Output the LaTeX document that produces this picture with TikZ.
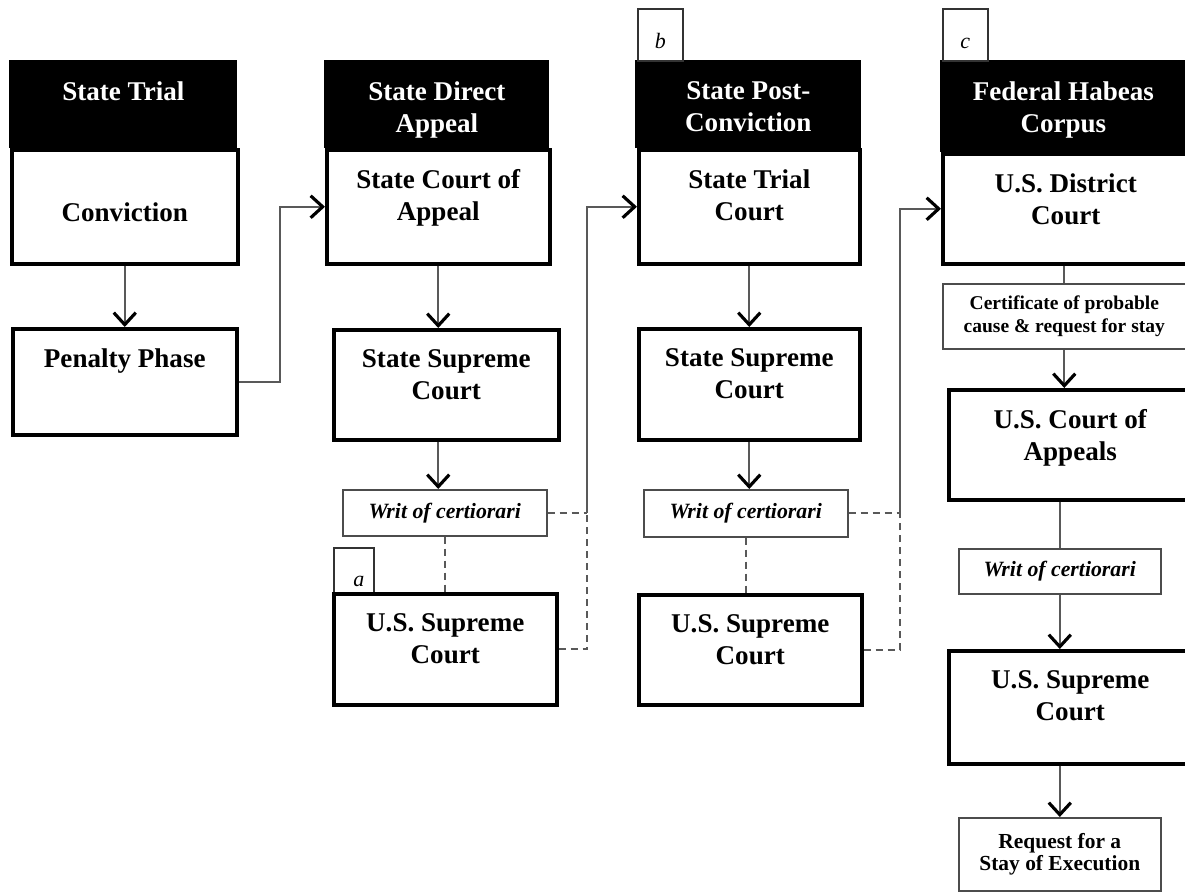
\documentclass[tikz,border=0pt]{standalone}
\usepackage{fontspec}
\setmainfont{Liberation Serif}
\usetikzlibrary{arrows.meta}
\newcommand\courtsize{\fontsize{15.4}{18.4}\selectfont}
\begin{document}
\begin{tikzpicture}[
  head/.style={fill=black, anchor=north west, inner sep=0pt},
  court/.style={draw, line width=2pt, anchor=north west, inner sep=0pt},
  writ/.style={draw=black!70, line width=0.9pt, anchor=north west, inner sep=0pt, font=\fontsize{12.4}{14}\selectfont\bfseries\itshape},
  note/.style={draw=black!70, line width=0.9pt, anchor=north west, inner sep=0pt, align=center, font=\bfseries},
  tag/.style={draw=black!80, line width=0.9pt, anchor=north west, inner sep=0pt},
  tagtext/.style={anchor=base, inner sep=0pt, font=\fontsize{12.5}{14}\selectfont\itshape},
  title/.style={anchor=north, yshift=-0.42cm, inner sep=0pt, align=center, font=\courtsize\bfseries},
  link/.style={draw=black!65, line width=1.1pt},
  arrow/.style={link, -{Straight Barb[length=0.24cm, width=0.44cm, line width=1.8pt, color=black]}},
  dlink/.style={link, dash pattern=on 0.14cm off 0.1cm}]
  \useasboundingbox (0,0) rectangle (23.700,-17.840);
  \clip (0,0) rectangle (23.700,-17.840);
  \node[head, minimum width=4.560cm, minimum height=1.760cm, label={[title, text=white]north:State Trial}] (trialhead) at (0.180,-1.200) {};
  \node[head, minimum width=4.500cm, minimum height=1.760cm, label={[title, text=white]north:State Direct\\Appeal}] (appealhead) at (6.480,-1.200) {};
  \node[head, minimum width=4.520cm, minimum height=1.760cm, label={[title, text=white]north:State Post-\\Conviction}] (posthead) at (12.700,-1.200) {};
  \node[head, minimum width=4.920cm, minimum height=1.840cm, label={[title, text=white]north:Federal Habeas\\Corpus}] (habeashead) at (18.800,-1.200) {};
  \node[tag, minimum width=0.900cm, minimum height=1.040cm, label={[tagtext, yshift=0.26cm]south:b}] (tagb) at (12.740,-0.160) {};
  \node[tag, minimum width=0.900cm, minimum height=1.040cm, label={[tagtext, yshift=0.26cm]south:c}] (tagc) at (18.840,-0.160) {};
  \node[tag, minimum width=0.800cm, minimum height=0.900cm, label={[tagtext, xshift=0.1cm, yshift=0.14cm]south:a}] (taga) at (6.660,-10.940) {};
  \node[court, minimum width=4.520cm, minimum height=2.280cm, label={[title, yshift=-0.67cm]north:Conviction}] (conviction) at (0.200,-2.960) {};
  \node[court, minimum width=4.480cm, minimum height=2.120cm, label={[title]north:Penalty Phase}] (penalty) at (0.220,-6.540) {};
  \node[court, minimum width=4.460cm, minimum height=2.280cm, label={[title]north:State Court of\\Appeal}] (appeal) at (6.500,-2.960) {};
  \node[court, minimum width=4.500cm, minimum height=2.200cm, label={[title]north:State Supreme\\Court}] (statesup1) at (6.640,-6.560) {};
  \node[writ, minimum width=4.080cm, minimum height=0.920cm] (writ1) at (6.840,-9.780) {Writ of certiorari};
  \node[court, minimum width=4.460cm, minimum height=2.220cm, label={[title]north:U.S. Supreme\\Court}] (ussup1) at (6.640,-11.840) {};
  \node[court, minimum width=4.420cm, minimum height=2.280cm, label={[title]north:State Trial\\Court}] (trialcourt) at (12.740,-2.960) {};
  \node[court, minimum width=4.420cm, minimum height=2.220cm, label={[title]north:State Supreme\\Court}] (statesup2) at (12.740,-6.540) {};
  \node[writ, minimum width=4.080cm, minimum height=0.940cm] (writ2) at (12.860,-9.780) {Writ of certiorari};
  \node[court, minimum width=4.460cm, minimum height=2.200cm, label={[title]north:U.S. Supreme\\Court}] (ussup2) at (12.740,-11.860) {};
  \node[court, minimum width=4.920cm, minimum height=2.200cm, label={[title]north:U.S. District\\Court}] (district) at (18.820,-3.040) {};
  \node[note, minimum width=4.860cm, minimum height=1.300cm, font=\fontsize{11.1}{13}\selectfont\bfseries] (certificate) at (18.840,-5.660) {Certificate of probable\\cause \& request for stay};
  \node[court, minimum width=4.860cm, minimum height=2.200cm, label={[title]north:U.S. Court of\\Appeals}] (appeals) at (18.940,-7.760) {};
  \node[writ, minimum width=4.040cm, minimum height=0.900cm] (writ3) at (19.160,-10.960) {Writ of certiorari};
  \node[court, minimum width=4.860cm, minimum height=2.260cm, label={[title]north:U.S. Supreme\\Court}] (ussup3) at (18.940,-12.980) {};
  \node[note, minimum width=4.040cm, minimum height=1.460cm, font=\fontsize{12.2}{12.8}\selectfont\bfseries] (stay) at (19.160,-16.340) {Request for a\\Stay of Execution};
  \coordinate (x1) at (5.600,0);
  \coordinate (x2) at (11.740,0);
  \coordinate (x3) at (18.000,0);
  \coordinate (k1) at (penalty.east -| x1);
  \coordinate (j1) at (writ1.east -| x2);
  \coordinate (j2) at (writ2.east -| x3);
  \draw[arrow] (conviction.south) -- (conviction.south |- penalty.north);
  \draw[arrow] (penalty.east) -- (k1) |- (appeal.west);
  \draw[arrow] (appeal.south) -- (appeal.south |- statesup1.north);
  \draw[arrow] (appeal.south |- statesup1.south) -- (appeal.south |- writ1.north);
  \draw[dlink] (writ1.south) -- (writ1.south |- ussup1.north);
  \draw[dlink] (writ1.east) -- (j1);
  \draw[dlink] (ussup1.east) -| (j1);
  \draw[arrow] (j1) |- (trialcourt.west);
  \draw[arrow] (trialcourt.south) -- (trialcourt.south |- statesup2.north);
  \draw[arrow] (statesup2.south) -- (statesup2.south |- writ2.north);
  \draw[dlink] (writ2.south) -- (writ2.south |- ussup2.north);
  \draw[dlink] (writ2.east) -- (j2);
  \draw[dlink] (ussup2.east) -| (j2);
  \draw[arrow] (j2) |- (district.west);
  \draw[link] (certificate.north |- district.south) -- (certificate.north);
  \draw[arrow] (certificate.south) -- (certificate.south |- appeals.north);
  \draw[link] (writ3.north |- appeals.south) -- (writ3.north);
  \draw[arrow] (writ3.south) -- (writ3.south |- ussup3.north);
  \draw[arrow] (stay.north |- ussup3.south) -- (stay.north);
\end{tikzpicture}
\end{document}
